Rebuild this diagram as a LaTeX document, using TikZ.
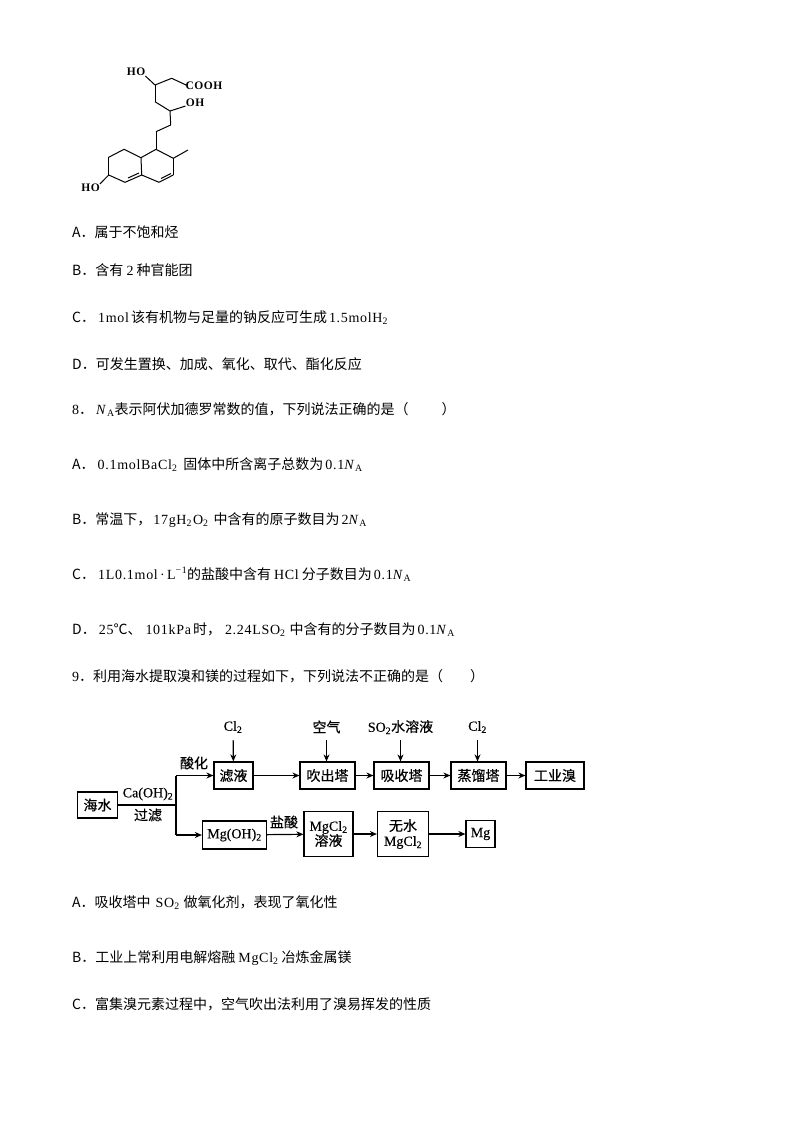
\documentclass[tikz,border=0pt]{standalone}
\usepackage{fontspec}
\setmainfont{Noto Sans CJK SC}
\newfontfamily\latfont[LetterSpace=5]{Liberation Serif}
\newfontfamily\flowcjk[FakeBold=0.5]{Noto Sans CJK SC}
\newfontfamily\flowlat[FakeBold=0.3]{Liberation Serif}
\usetikzlibrary{arrows.meta}
\newcommand{\lat}[1]{{\latfont #1}}
\newcommand{\lowtwo}{\textsubscript{\lat{2}}}
\newcommand{\avog}{{\latfont\itshape N}\hspace{1.5pt}\textsubscript{\lat{A}}}
\tikzset{
  textline/.style={anchor=base west,inner sep=0pt,font=\fontsize{14}{16}\selectfont},
  atomlabel/.style={inner sep=0pt,font=\fontsize{11.5}{13}\selectfont\latfont\bfseries},
  flowfont/.style={font=\fontsize{14}{15}\selectfont\flowcjk\let\latfont\flowlat},
  flowbox/.style={draw,line width=1.2pt,inner sep=0pt,align=center,flowfont},
  flowlabel/.style={inner sep=0pt,minimum height=26pt,flowfont},
  tag/.style={inner sep=0pt,flowfont},
  flow/.style={draw,line width=1.2pt,-{Stealth[length=7pt,width=6pt]}},
  bond/.style={draw,line width=1pt}
}
\begin{document}
\begin{tikzpicture}[x=1pt,y=-1pt]
  \useasboundingbox (0,0) rectangle (794,1123);

  \begin{scope}[every node/.style={textline}]
    \node (lineA)  at (72,237) {A．属于不饱和烃};
    \node (lineB)  at (72,275) {B．含有 \lat{2} 种官能团};
    \node (lineC)  at (72,322) {C．\hspace{3pt}\lat{1mol}\hspace{2pt}该有机物与足量的钠反应可生成\hspace{2pt}\lat{1.5molH}\lowtwo};
    \node (lineD)  at (72,369) {D．可发生置换、加成、氧化、取代、酯化反应};
    \node (line8)  at (72,414) {\lat{8}．\hspace{3pt}\avog{}表示阿伏加德罗常数的值，下列说法正确的是（\hspace{33pt}）};
    \node (line8A) at (72,469) {A．\hspace{3pt}\lat{0.1molBaCl}\lowtwo\hspace{6pt}固体中所含离子总数为\hspace{2pt}\lat{0.1}\avog};
    \node (line8B) at (72,524) {B．常温下，\hspace{2pt}\lat{17gH}\lowtwo\hspace{1pt}\lat{O}\lowtwo\hspace{5pt}中含有的原子数目为\hspace{2pt}\lat{2}\avog};
    \node (line8C) at (72,579) {C．\hspace{3pt}\lat{1L0.1mol\,·\,L}\textsuperscript{\lat{−1}}的盐酸中含有\hspace{3pt}\lat{HCl}\hspace{3pt}分子数目为\hspace{2pt}\lat{0.1}\avog};
    \node (line8D) at (72,634) {D．\hspace{3pt}\lat{25}℃、\hspace{4pt}\lat{101kPa}\hspace{2pt}时，\hspace{4pt}\lat{2.24LSO}\lowtwo\hspace{4pt}中含有的分子数目为\hspace{2pt}\lat{0.1}\avog};
    \node (line9)  at (72,681) {\lat{9}．利用海水提取溴和镁的过程如下，下列说法不正确的是（\hspace{27pt}）};
    \node (line9A) at (72,907) {A．吸收塔中\hspace{5pt}\lat{SO}\lowtwo\hspace{4pt}做氧化剂，表现了氧化性};
    \node (line9B) at (72,962) {B．工业上常利用电解熔融\hspace{3pt}\lat{MgCl}\lowtwo\hspace{3pt}冶炼金属镁};
    \node (line9C) at (72,1009) {C．富集溴元素过程中，空气吹出法利用了溴易挥发的性质};
  \end{scope}

  \begin{scope}[every node/.style={atomlabel}]
    \node (ho1)  at (136,72)  {HO};
    \node (cooh) at (204,86)  {COOH};
    \node (oh)   at (195,103) {OH};
    \node (ho2)  at (90.5,188) {HO};
  \end{scope}

  \coordinate (a1)  at (155,85);
  \coordinate (a2)  at (171.7,78.3);
  \coordinate (a3)  at (186,85);
  \coordinate (a4)  at (155,101.7);
  \coordinate (a5)  at (170,111);
  \coordinate (a6)  at (170.7,125);
  \coordinate (a7)  at (156,131.7);
  \coordinate (a8)  at (156,149.3);
  \coordinate (a9)  at (173.3,158.3);
  \coordinate (a10) at (188,150);
  \coordinate (a11) at (173.3,175);
  \coordinate (a12) at (159,182.3);
  \coordinate (a13) at (141.7,175);
  \coordinate (a14) at (141,157.7);
  \coordinate (a15) at (124,149.3);
  \coordinate (a16) at (108.7,157.3);
  \coordinate (a17) at (108.7,175);
  \coordinate (a18) at (125,182.3);
  \coordinate (d1)  at (128,178);
  \coordinate (d2)  at (139,173);
  \coordinate (d3)  at (161,178.5);
  \coordinate (d4)  at (171,173.5);

  \begin{scope}[every edge/.style={bond}]
    \path (ho1.south east) edge (a1);
    \path (a1)  edge (a2);
    \path (a2)  edge (a3);
    \path (a3)  edge (cooh);
    \path (a1)  edge (a4);
    \path (a4)  edge (a5);
    \path (a5)  edge (oh);
    \path (a5)  edge (a6);
    \path (a6)  edge (a7);
    \path (a7)  edge (a8);
    \path (a8)  edge (a9);
    \path (a9)  edge (a10);
    \path (a9)  edge (a11);
    \path (a11) edge (a12);
    \path (d3)  edge (d4);
    \path (a12) edge (a13);
    \path (a13) edge (a14);
    \path (a14) edge (a8);
    \path (a14) edge (a15);
    \path (a15) edge (a16);
    \path (a16) edge (a17);
    \path (a17) edge (a18);
    \path (a18) edge (a13);
    \path (d1)  edge (d2);
    \path (a17) edge (ho2.north east);
  \end{scope}

  \begin{scope}[every node/.style={flowbox}]
    \node[minimum width=40pt,minimum height=26pt] (seawater) at (97.5,805) {海水};
    \node[minimum width=39pt,minimum height=27pt] (filtrate) at (233.5,775.5) {滤液};
    \node[minimum width=55pt,minimum height=27pt] (blower) at (327.5,775.5) {吹出塔};
    \node[minimum width=55pt,minimum height=27pt] (absorber) at (401.5,775.5) {吸收塔};
    \node[minimum width=55pt,minimum height=27pt] (still) at (478.5,775.5) {蒸馏塔};
    \node[minimum width=58pt,minimum height=27pt] (bromine) at (555,775.5) {工业溴};
    \node[minimum width=64pt,minimum height=28pt] (hydroxide) at (234.5,835) {\lat{Mg(OH)}\lowtwo};
    \node[minimum width=49pt,minimum height=45pt] (solution) at (328.5,834) {\lat{MgCl}\lowtwo\\溶液};
    \node[minimum width=51pt,minimum height=45pt] (anhydrous) at (403,834) {无水\\\lat{MgCl}\lowtwo};
    \node[minimum width=29pt,minimum height=27pt] (metal) at (480.5,834) {\lat{Mg}};
  \end{scope}

  \begin{scope}[every node/.style={flowlabel}]
    \node (clin1) at (233,727) {\lat{Cl}\lowtwo};
    \node (airin) at (326.5,727) {空气};
    \node (soin)  at (400.5,727) {\lat{SO}\lowtwo{}水溶液};
    \node (clin2) at (477.5,727) {\lat{Cl}\lowtwo};
  \end{scope}

  \begin{scope}[every node/.style={tag}]
    \node (acidify) at (194,763) {酸化};
    \node (caoh)    at (148,794) {\lat{Ca(OH)}\lowtwo};
    \node (filter)  at (148,815) {过滤};
    \node (hcl)     at (284,822) {盐酸};
  \end{scope}

  \coordinate (fork) at (176,805);
  \coordinate (forkup) at (176,775.5);
  \coordinate (forkdown) at (176,835);

  \draw[line width=1.2pt] (seawater) -- (fork);
  \draw[line width=1.2pt] (forkup) -- (forkdown);
  \path[flow] (forkup) -- (filtrate);
  \path[flow] (forkdown) -- (hydroxide);
  \path[flow] (filtrate) -- (blower);
  \path[flow] (blower) -- (absorber);
  \path[flow] (absorber) -- (still);
  \path[flow] (still) -- (bromine);
  \path[flow] (hydroxide) -- (solution);
  \path[flow] (solution) -- (anhydrous);
  \path[flow] (anhydrous) -- (metal);
  \path[flow] (clin1) -- (filtrate);
  \path[flow] (airin) -- (blower.north -| airin);
  \path[flow] (soin) -- (absorber.north -| soin);
  \path[flow] (clin2) -- (still.north -| clin2);

\end{tikzpicture}
\end{document}
